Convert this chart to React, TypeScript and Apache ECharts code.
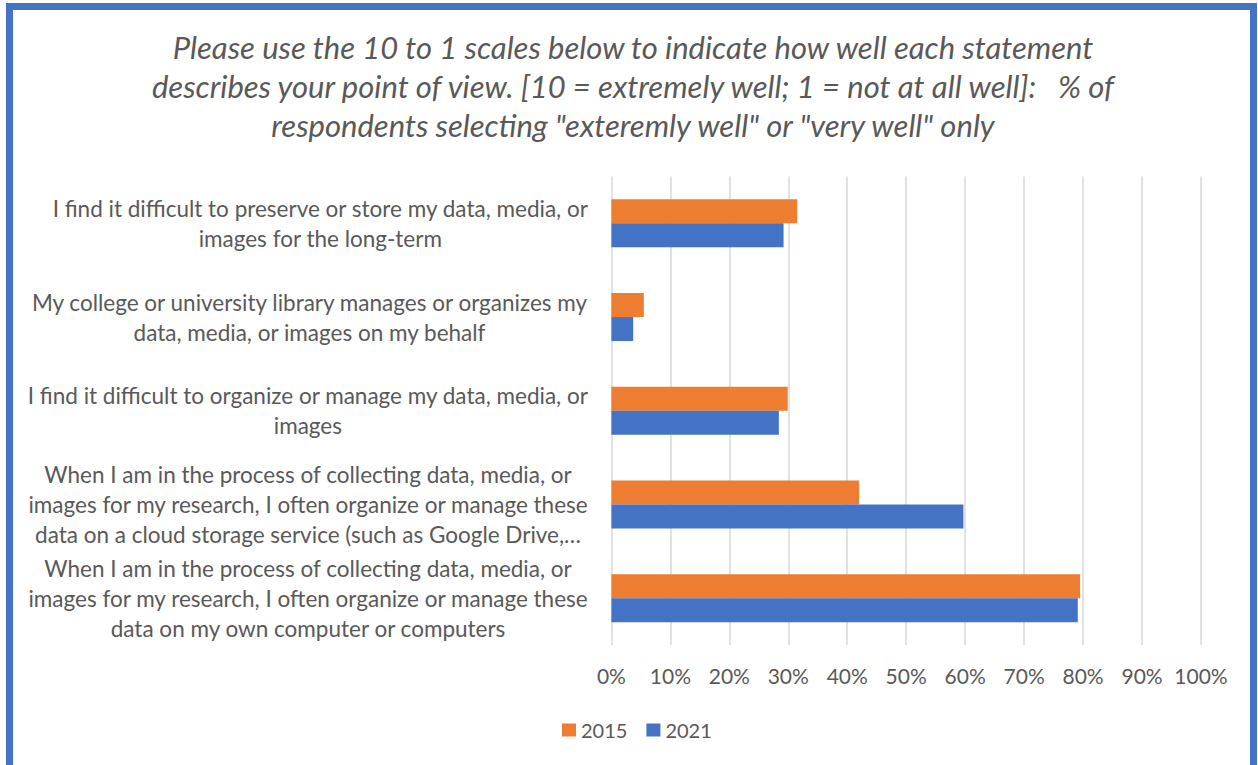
import React, { useEffect, useRef } from "react";
import * as echarts from "echarts";

const titleLines = [
  "Please use the 10 to 1 scales below to indicate how well each statement",
  "describes your point of view. [10 = extremely well; 1 = not at all well]:   % of",
  "respondents selecting \"exteremly well\" or \"very well\" only",
];

const categories = [
  "I find it difficult to preserve or store my data, media, or\nimages for the long-term",
  "My college or university library manages or organizes my\ndata, media, or images on my behalf",
  "I find it difficult to organize or manage my data, media, or\nimages",
  "When I am in the process of collecting data, media, or\nimages for my research, I often organize or manage these\ndata on a cloud storage service (such as Google Drive,…",
  "When I am in the process of collecting data, media, or\nimages for my research, I often organize or manage these\ndata on my own computer or computers",
];

const seriesNames = ["2015", "2021"];
const values2015 = [31.5, 5.5, 29.9, 42.0, 79.5];
const values2021 = [29.2, 3.7, 28.4, 59.7, 79.1];

const xMin = 0;
const xMax = 100;
const xInterval = 10;

const ORANGE = "#ED7D31";
const BLUE = "#4472C4";
const TEXT = "#595959";
const FONT = "Lato, 'Noto Sans', sans-serif";

export default function App() {
  const ref = useRef<HTMLDivElement>(null);

  useEffect(() => {
    document.body.style.margin = "0";
    if (!ref.current) return;
    const chart = echarts.init(ref.current, undefined, { renderer: "svg" });
    chart.setOption({
      animation: false,
      backgroundColor: "#ffffff",
      graphic: [
        {
          type: "rect",
          shape: { x: 9.5, y: 6.5, width: 1244, height: 790 },
          style: { fill: "none", stroke: BLUE, lineWidth: 7 },
          silent: true,
        },
        {
          type: "text",
          x: 633,
          y: 27,
          style: {
            text: titleLines.join("\n"),
            textAlign: "center",
            textVerticalAlign: "top",
            fontFamily: FONT,
            fontStyle: "italic",
            fontSize: 31,
            lineHeight: 39,
            fill: TEXT,
          },
        },
      ],
      legend: {
        data: seriesNames,
        top: 715,
        left: 557,
        itemWidth: 14,
        itemHeight: 13,
        itemGap: 19,
        icon: "rect",
        textStyle: { fontFamily: FONT, fontSize: 20, color: TEXT },
      },
      grid: { left: 611.4, right: 57, top: 176.5, bottom: 120, containLabel: false },
      xAxis: {
        type: "value",
        min: xMin,
        max: xMax,
        interval: xInterval,
        axisLine: { show: false },
        axisTick: { show: false },
        splitLine: { show: true, lineStyle: { color: "#D9D9D9", width: 1.5 } },
        axisLabel: {
          formatter: "{value}%",
          fontFamily: FONT,
          fontSize: 21,
          color: TEXT,
          margin: 20,
        },
      },
      yAxis: {
        type: "category",
        data: categories,
        inverse: true,
        axisLine: { show: false },
        axisTick: { show: false },
        splitLine: { show: false },
        axisLabel: {
          margin: 23,
          align: "right",
          formatter: (v: string) => v.split("\n").map((l) => `{c|${l}}`).join("\n"),
          rich: {
            c: {
              align: "center",
              fontFamily: FONT,
              fontSize: 22.5,
              lineHeight: 30,
              color: TEXT,
            },
          },
        },
      },
      series: [
        {
          name: seriesNames[0],
          type: "bar",
          data: values2015,
          barWidth: 24,
          barGap: "0%",
          itemStyle: { color: ORANGE },
        },
        {
          name: seriesNames[1],
          type: "bar",
          data: values2021,
          barWidth: 24,
          barGap: "0%",
          itemStyle: { color: BLUE },
        },
      ],
    });
    return () => chart.dispose();
  }, []);

  return (
    <div
      ref={ref}
      style={{ position: "absolute", left: 0, top: 0, width: 1258, height: 765 }}
    />
  );
}
